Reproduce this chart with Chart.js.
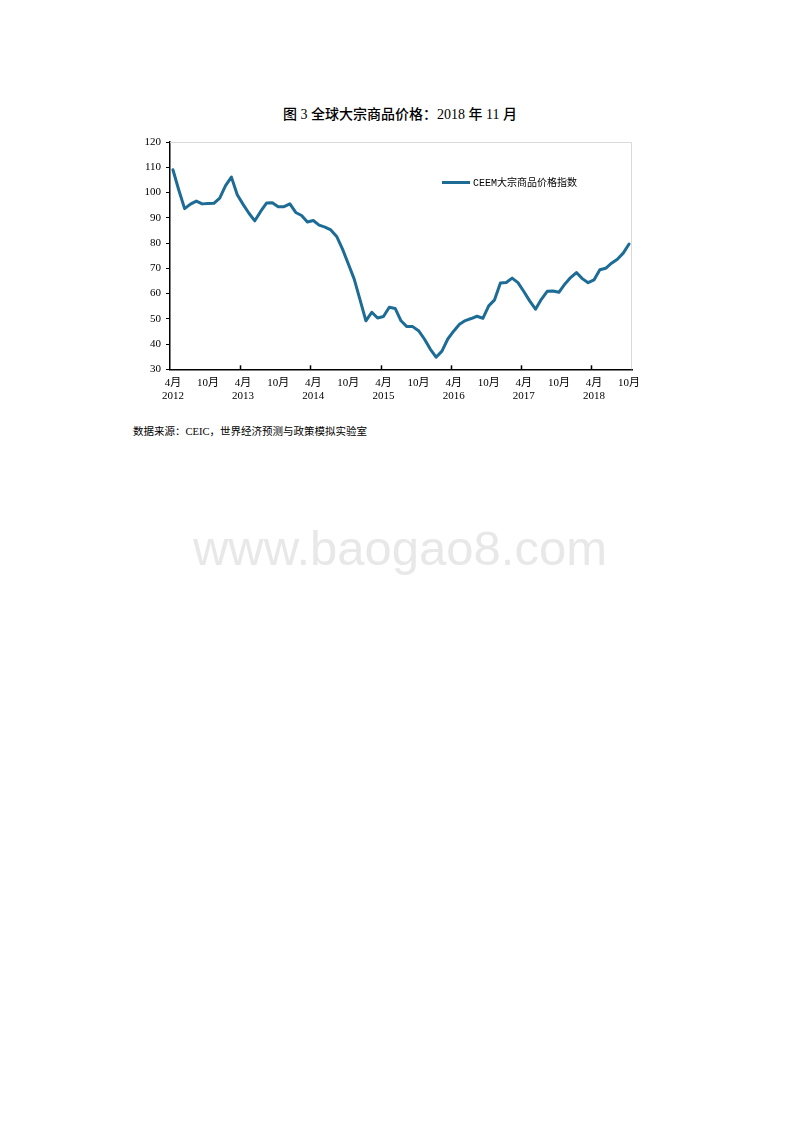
<!DOCTYPE html>
<html>
<head>
<meta charset="utf-8">
<script src="https://cdn.jsdelivr.net/npm/chart.js@4/dist/chart.umd.min.js"></script>
<style>
  html, body { margin: 0; padding: 0; background: #fff; }
  body { width: 800px; height: 1132px; position: relative; overflow: hidden; }
  #title { position: absolute; left: 0; width: 800px; top: 103px; text-align: center;
    font: 500 14px "Liberation Serif", "Noto Sans CJK SC", serif; color: #000; }
  #src { position: absolute; left: 133px; top: 423px;
    font: 10.5px "Liberation Serif", "Noto Sans CJK SC", serif; color: #000; }
  #wrap { position: absolute; left: 120px; top: 130px; width: 530px; height: 290px; }
  #legend { position: absolute; left: 442px; top: 177px; height: 14px; white-space: nowrap;
    font: 10px "Liberation Mono", "Noto Sans CJK SC", monospace; color: #000; line-height: 14px; }
  #legend span.ln { display: inline-block; width: 28px; height: 3px; background: #1d6c96;
    vertical-align: middle; margin-right: 3px; position: relative; top: -1px; }
  #wm { position: absolute; left: 0; width: 800px; top: 520px; text-align: center;
    font: 49px "Liberation Sans", Arial, sans-serif; color: #e8e8e8; }
</style>
</head>
<body>
<div id="title">图 3 全球大宗商品价格：2018 年 11 月</div>
<div id="wrap"><canvas id="c" width="530" height="290"></canvas></div>
<div id="legend"><span class="ln"></span>CEEM大宗商品价格指数</div>
<div id="src">数据来源：CEIC，世界经济预测与政策模拟实验室</div>
<div id="wm">www.baogao8.com</div>
<script>
const seriesName = "CEEM大宗商品价格指数";

const months = [
  "2012-04","2012-05","2012-06","2012-07","2012-08","2012-09","2012-10","2012-11","2012-12",
  "2013-01","2013-02","2013-03","2013-04","2013-05","2013-06","2013-07","2013-08","2013-09","2013-10","2013-11","2013-12",
  "2014-01","2014-02","2014-03","2014-04","2014-05","2014-06","2014-07","2014-08","2014-09","2014-10","2014-11","2014-12",
  "2015-01","2015-02","2015-03","2015-04","2015-05","2015-06","2015-07","2015-08","2015-09","2015-10","2015-11","2015-12",
  "2016-01","2016-02","2016-03","2016-04","2016-05","2016-06","2016-07","2016-08","2016-09","2016-10","2016-11","2016-12",
  "2017-01","2017-02","2017-03","2017-04","2017-05","2017-06","2017-07","2017-08","2017-09","2017-10","2017-11","2017-12",
  "2018-01","2018-02","2018-03","2018-04","2018-05","2018-06","2018-07","2018-08","2018-09","2018-10"
];

const ceemIndex = [
  109.0, 101.0, 93.6, 95.4, 96.6, 95.5, 95.6, 95.7, 97.8,
  102.7, 106.1, 99.1, 95.3, 91.8, 88.8, 92.5, 95.8, 95.9, 94.4, 94.4, 95.5,
  92.1, 90.9, 88.3, 88.9, 87.1, 86.3, 85.2, 82.6, 77.6, 71.7, 65.7, 57.5,
  49.2, 52.6, 50.3, 50.9, 54.6, 54.1, 49.2, 46.9, 46.9, 45.3, 42.0, 38.0,
  34.8, 37.2, 42.0, 45.1, 47.8, 49.3, 50.1, 51.0, 50.2, 55.1, 57.5, 64.2,
  64.4, 66.1, 64.3, 60.8, 57.1, 53.8, 57.7, 60.9, 61.0, 60.5, 63.7, 66.3,
  68.3, 65.9, 64.3, 65.4, 69.4, 70.0, 72.0, 73.6, 76.0, 79.6
];

const yTicks = [30, 40, 50, 60, 70, 80, 90, 100, 110, 120];
const monthTickLabels = { "04": "4月", "10": "10月" };

const serif = '"Liberation Serif", "Noto Sans CJK SC", serif';

const frame = {
  id: 'frame',
  beforeDatasetsDraw(chart) {
    const a = chart.chartArea, ctx = chart.ctx;
    ctx.save();
    ctx.strokeStyle = '#d9d9d9';
    ctx.lineWidth = 1;
    ctx.beginPath();
    ctx.moveTo(a.left, a.top + 0.5);
    ctx.lineTo(a.right - 0.5, a.top + 0.5);
    ctx.lineTo(a.right - 0.5, a.bottom);
    ctx.stroke();
    ctx.restore();
  },
  afterDraw(chart) {
    const a = chart.chartArea, ctx = chart.ctx, xs = chart.scales.x;
    const half = (xs.getPixelForValue(1) - xs.getPixelForValue(0)) / 2;
    ctx.save();
    ctx.strokeStyle = '#000';
    ctx.lineWidth = 1.5;
    months.forEach((m, i) => {
      if (m.endsWith('-04') && i > 0) {
        const x = Math.round(xs.getPixelForValue(i) - half) + 0.5;
        ctx.beginPath();
        ctx.moveTo(x, a.bottom - 4);
        ctx.lineTo(x, a.bottom);
        ctx.stroke();
      }
    });
    ctx.restore();
  }
};

new Chart(document.getElementById('c'), {
  type: 'line',
  data: {
    labels: months,
    datasets: [{
      label: seriesName,
      data: ceemIndex,
      borderColor: '#1d6c96',
      backgroundColor: '#1d6c96',
      borderWidth: 3,
      pointRadius: 0,
      tension: 0,
      borderJoinStyle: 'round',
      borderCapStyle: 'round'
    }]
  },
  options: {
    responsive: false,
    animation: false,
    layout: { padding: { top: 12, right: 18, left: 0, bottom: 0 } },
    plugins: { legend: { display: false }, tooltip: { enabled: false } },
    scales: {
      x: {
        type: 'category',
        offset: true,
        afterFit(s) { s.height = 50.7; },
        grid: { display: true, drawOnChartArea: false, drawTicks: false, offset: true, color: 'transparent' },
        border: { display: true, color: '#000', width: 1.5 },
        ticks: {
          autoSkip: false,
          maxRotation: 0,
          minRotation: 0,
          padding: 7,
          color: '#000',
          font: { family: serif, size: 11 },
          callback(v, i) {
            const m = months[i];
            const [yr, mo] = m.split('-');
            if (mo === '04') return [monthTickLabels[mo], yr];
            if (mo === '10') return monthTickLabels[mo];
            return '';
          }
        }
      },
      y: {
        min: 30,
        max: 120,
        afterFit(s) { s.width = 50; },
        afterBuildTicks(s) { s.ticks = yTicks.map(v => ({ value: v })); },
        grid: { display: true, drawOnChartArea: false, drawTicks: true, tickLength: 4, tickColor: '#000', tickWidth: 1 },
        border: { display: true, color: '#000', width: 1.5 },
        ticks: {
          padding: 5,
          color: '#000',
          font: { family: serif, size: 11 }
        }
      }
    }
  },
  plugins: [frame]
});
</script>
</body>
</html>
